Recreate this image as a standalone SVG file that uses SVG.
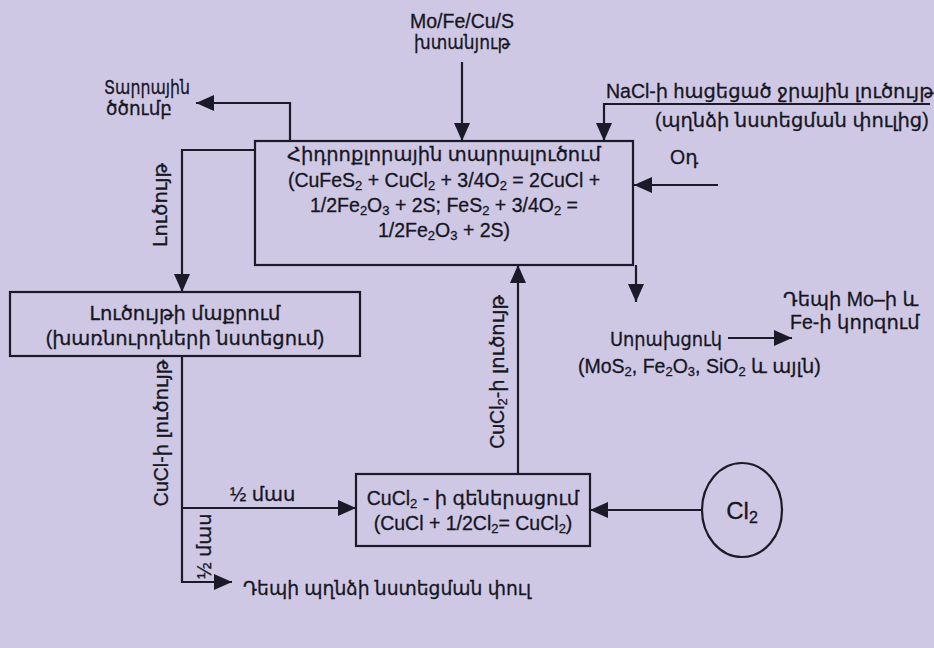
<svg xmlns="http://www.w3.org/2000/svg" width="934" height="648" viewBox="0 0 934 648">
<defs>
<style>
text{font-family:"Liberation Sans","DejaVu Sans",Arial,sans-serif;fill:#16161f;stroke:#16161f;stroke-width:0.3;font-size:19.5px}
.c{text-anchor:middle}
.box{fill:none;stroke:#1a1a28;stroke-width:2.2}
.ln{fill:none;stroke:#1a1a28;stroke-width:2.2}
.sub{font-size:13px}
</style>
<marker id="ah" viewBox="0 0 18 16" refX="18" refY="8" markerWidth="18" markerHeight="16" orient="auto" markerUnits="userSpaceOnUse">
<path d="M0,0 L18,8 L0,16 z" fill="#1a1a28"/>
</marker>
</defs>
<rect width="934" height="648" fill="#cfc8e5"/>

<g id="connectors">
<path class="ln" d="M462,62 V141" marker-end="url(#ah)"/>
<path class="ln" d="M290,141 V103 H196" marker-end="url(#ah)"/>
<path class="ln" d="M930,104 H604 V141" marker-end="url(#ah)"/>
<path class="ln" d="M718,185 H634" marker-end="url(#ah)"/>
<path class="ln" d="M255,150 H182 V292" marker-end="url(#ah)"/>
<path class="ln" d="M182,356 V582 H232" marker-end="url(#ah)"/>
<path class="ln" d="M182,508 H356" marker-end="url(#ah)"/>
<path class="ln" d="M518,474 V265" marker-end="url(#ah)"/>
<path class="ln" d="M702,510 H590" marker-end="url(#ah)"/>
<path class="ln" d="M636,265 V302" marker-end="url(#ah)"/>
<path class="ln" d="M728,338 H792" marker-end="url(#ah)"/>
</g>

<g id="leaching">
<rect class="box" x="255" y="141" width="378" height="124"/>
<text class="c" x="444" y="161">Հիդրոքլորային տարրալուծում</text>
<text class="c" x="444" y="187">(CuFeS<tspan class="sub" baseline-shift="-3">2</tspan> + CuCl<tspan class="sub" baseline-shift="-3">2</tspan> + 3/4O<tspan class="sub" baseline-shift="-3">2</tspan> = 2CuCl +</text>
<text class="c" x="444" y="212">1/2Fe<tspan class="sub" baseline-shift="-3">2</tspan>O<tspan class="sub" baseline-shift="-3">3</tspan> + 2S; FeS<tspan class="sub" baseline-shift="-3">2</tspan> + 3/4O<tspan class="sub" baseline-shift="-3">2</tspan> =</text>
<text class="c" x="444" y="237">1/2Fe<tspan class="sub" baseline-shift="-3">2</tspan>O<tspan class="sub" baseline-shift="-3">3</tspan> + 2S)</text>
</g>

<g id="feed">
<text class="c" x="462" y="28">Mo/Fe/Cu/S</text>
<text class="c" x="462" y="49" textLength="96" lengthAdjust="spacingAndGlyphs">խտանյութ</text>
</g>

<g id="sulfur">
<text x="104" y="94" textLength="86" lengthAdjust="spacingAndGlyphs">Տարրային</text>
<text x="106" y="115" textLength="66" lengthAdjust="spacingAndGlyphs">ծծումբ</text>
</g>

<g id="nacl">
<text x="606" y="98">NaCl-ի hացեցած ջրային լուծույթ</text>
<text x="655" y="127">(պղնձի նստեցման փուլից)</text>
</g>

<g id="oxygen">
<text x="670" y="164">Oդ</text>
</g>

<g id="purification">
<rect class="box" x="10" y="292" width="350" height="64"/>
<text class="c" x="185" y="320">Լուծույթի մաքրում</text>
<text class="c" x="185" y="345">(խառնուրդների նստեցում)</text>
</g>

<g id="generation">
<rect class="box" x="356" y="474" width="234" height="72"/>
<text class="c" x="473" y="505">CuCl<tspan class="sub" baseline-shift="-3">2</tspan> - ի գեներացում</text>
<text class="c" x="473" y="530">(CuCl + 1/2Cl<tspan class="sub" baseline-shift="-3">2</tspan>= CuCl<tspan class="sub" baseline-shift="-3">2</tspan>)</text>
</g>

<g id="chlorine">
<ellipse class="box" cx="742" cy="510" rx="40" ry="47"/>
<text class="c" x="742" y="519" style="font-size:24px">Cl<tspan style="font-size:16px" baseline-shift="-4">2</tspan></text>
</g>

<g id="residue">
<text x="610" y="346" textLength="112" lengthAdjust="spacingAndGlyphs">Սորախցուկ</text>
<text x="578" y="373">(MoS<tspan class="sub" baseline-shift="-3">2</tspan>, Fe<tspan class="sub" baseline-shift="-3">2</tspan>O<tspan class="sub" baseline-shift="-3">3</tspan>, SiO<tspan class="sub" baseline-shift="-3">2</tspan> և այլն)</text>
</g>

<g id="mo-fe">
<text x="783" y="306">Դեպի Mo–ի և</text>
<text x="790" y="329">Fe-ի կորզում</text>
</g>

<g id="copper">
<text x="243" y="595" textLength="288" lengthAdjust="spacingAndGlyphs">Դեպի պղնձի նստեցման փուլ</text>
</g>

<g id="labels">
<text transform="translate(167,205) rotate(-90)" class="c">Լուծույթ</text>
<text transform="translate(168,433) rotate(-90)" class="c">CuCl-ի լուծույթ</text>
<text x="230" y="501">½ մաս</text>
<text transform="translate(211,546) rotate(-90)" class="c">½ մաս</text>
<text transform="translate(504,372) rotate(-90)" class="c">CuCl<tspan class="sub" baseline-shift="-3">2</tspan>-ի լուծույթ</text>
</g>
</svg>
